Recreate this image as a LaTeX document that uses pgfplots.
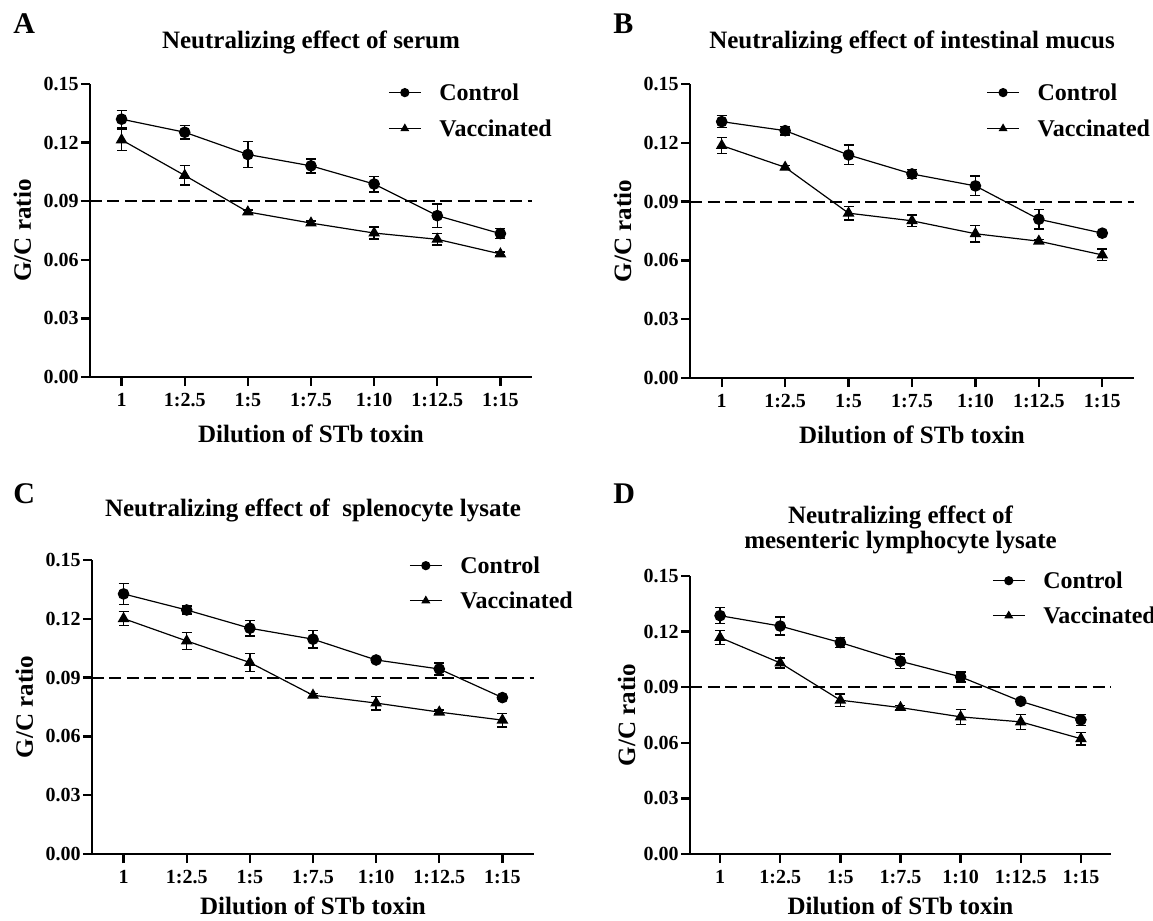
\documentclass[border=0pt]{standalone}
\usepackage{fontspec}
\setmainfont{Liberation Serif}
\usepackage{pgfplots}
\usepackage{pgfplotstable}
\pgfplotsset{compat=1.18}

% x = dilution index (0 = 1, 1 = 1:2.5, ... 6 = 1:15), y = G/C ratio, e = error
\pgfplotstableread{
x y e
0 0.1320 0.0043
1 0.1253 0.0034
2 0.1139 0.0066
3 0.1081 0.0036
4 0.0988 0.0040
5 0.0826 0.0060
6 0.0734 0.0025
}\serumctrl
\pgfplotstableread{
x y e
0 0.1214 0.0055
1 0.1032 0.0050
2 0.0845 0.0010
3 0.0788 0.0010
4 0.0737 0.0030
5 0.0705 0.0030
6 0.0630 0.0010
}\serumvacc
\pgfplotstableread{
x y e
0 0.1308 0.0030
1 0.1262 0.0022
2 0.1138 0.0050
3 0.1041 0.0024
4 0.0980 0.0050
5 0.0810 0.0050
6 0.0739 0.0010
}\mucusctrl
\pgfplotstableread{
x y e
0 0.1186 0.0040
1 0.1075 0.0010
2 0.0841 0.0035
3 0.0802 0.0030
4 0.0736 0.0042
5 0.0698 0.0010
6 0.0628 0.0030
}\mucusvacc
\pgfplotstableread{
x y e
0 0.1327 0.0053
1 0.1245 0.0020
2 0.1152 0.0040
3 0.1096 0.0044
4 0.0990 0.0010
5 0.0944 0.0030
6 0.0798 0.0010
}\splenctrl
\pgfplotstableread{
x y e
0 0.1201 0.0036
1 0.1087 0.0044
2 0.0977 0.0047
3 0.0810 0.0010
4 0.0770 0.0035
5 0.0724 0.0010
6 0.0683 0.0034
}\splenvacc
\pgfplotstableread{
x y e
0 0.1286 0.0043
1 0.1230 0.0049
2 0.1141 0.0027
3 0.1040 0.0040
4 0.0956 0.0027
5 0.0824 0.0010
6 0.0724 0.0030
}\mesctrl
\pgfplotstableread{
x y e
0 0.1168 0.0037
1 0.1031 0.0027
2 0.0830 0.0034
3 0.0790 0.0010
4 0.0740 0.0040
5 0.0713 0.0040
6 0.0622 0.0034
}\mesvacc

\pgfplotsset{
  /pgf/number format/assume math mode=true,
  panel/.style={
    scale only axis,
    anchor=south west,
    axis x line=bottom, axis y line=left,
    axis line style={line width=1.2pt, -},
    tick align=outside,
    major tick length=4.5pt,
    tick style={line width=1.2pt, black},
    xmin=-0.5, xmax=6.5, ymin=0, ymax=0.15,
    xtick={0,...,6},
    xticklabels={1,1:2.5,1:5,1:7.5,1:10,1:12.5,1:15},
    ytick={0,0.03,0.06,0.09,0.12,0.15},
    scaled y ticks=false,
    yticklabel style={/pgf/number format/fixed, /pgf/number format/fixed zerofill,
      /pgf/number format/precision=2, inner sep=1pt},
    ticklabel style={font=\bfseries\fontsize{10}{12}\selectfont},
    xlabel={Dilution of STb toxin},
    ylabel={G/C ratio},
    label style={font=\bfseries\fontsize{12.5}{14}\selectfont},
    xlabel style={at={([yshift=-32.5pt]axis description cs:0.5,0)}, anchor=base},
    ylabel style={at={([xshift=-29.5pt]axis description cs:0,0.5)}, anchor=base},
    title style={font=\bfseries\fontsize{12.5}{12.5}\selectfont, align=center,
      at={([yshift=12pt]axis description cs:0.5,1)}, anchor=base},
    legend cell align=left,
    legend style={draw=none, fill=none, inner sep=0pt, anchor=north west,
      at={(0.674,1.0)}, row sep=9.8pt,
      font=\bfseries\fontsize{12}{14}\selectfont,
      nodes={inner sep=0pt, text height=8.2pt, text depth=0pt},
      /tikz/every odd column/.append style={column sep=9pt}},
    legend image code/.code={
      \draw[mark repeat=2, mark phase=2, #1, mark size=2pt]
        plot coordinates {(0cm,0cm) (0.28cm,0cm) (0.56cm,0cm)};},
  },
  ctrl/.style={black, line width=0.6pt, mark=*, mark size=2.6pt,
    mark options={solid, fill=black},
    error bars/.cd, y dir=both, y explicit,
    error bar style={line width=0.7pt, black},
    error mark options={rotate=90, mark size=2.5pt, line width=0.7pt, black}},
  vacc/.style={black, line width=0.6pt, mark=triangle*, mark size=2.8pt,
    mark options={solid, fill=black},
    error bars/.cd, y dir=both, y explicit,
    error bar style={line width=0.7pt, black},
    error mark options={rotate=90, mark size=2.5pt, line width=0.7pt, black}},
  cutoff/.style={black, line width=1pt, dash pattern=on 6pt off 2.75pt, forget plot},
}

\begin{document}
\begin{tikzpicture}
\useasboundingbox (0,0) rectangle (576.5pt,-460.5pt);

% A
\begin{axis}[panel, at={(45pt,-188.5pt)}, width=221pt, height=146.5pt,
  title={Neutralizing effect of serum}]
  \addplot[cutoff] coordinates {(-0.5,0.09) (6.5,0.09)};
  \addplot[ctrl] table[x=x, y=y, y error=e] {\serumctrl};
  \addplot[vacc] table[x=x, y=y, y error=e] {\serumvacc};
  \legend{Control, Vaccinated}
\end{axis}

% B
\begin{axis}[panel, at={(345pt,-189pt)}, width=222pt, height=147pt,
  title={Neutralizing effect of intestinal mucus},
  legend style={at={(0.667,1.0)}}]
  \addplot[cutoff] coordinates {(-0.5,0.09) (6.5,0.09)};
  \addplot[ctrl] table[x=x, y=y, y error=e] {\mucusctrl};
  \addplot[vacc] table[x=x, y=y, y error=e] {\mucusvacc};
  \legend{Control, Vaccinated}
\end{axis}

% C
\begin{axis}[panel, at={(46pt,-427pt)}, width=221pt, height=147pt,
  title={Neutralizing effect of\ \ splenocyte lysate},
  title style={at={([yshift=16pt]axis description cs:0.5,1)}},
  xlabel style={at={([yshift=-30pt]axis description cs:0.5,0)}},
  legend style={at={(0.717,1.01)}, row sep=9.3pt}]
  \addplot[cutoff] coordinates {(-0.5,0.09) (6.5,0.09)};
  \addplot[ctrl] table[x=x, y=y, y error=e] {\splenctrl};
  \addplot[vacc] table[x=x, y=y, y error=e] {\splenvacc};
  \legend{Control, Vaccinated}
\end{axis}

% D
\begin{axis}[panel, at={(345pt,-427pt)}, width=210.5pt, height=139pt,
  title={Neutralizing effect of\\mesenteric lymphocyte lysate},
  title style={at={([yshift=8pt]axis description cs:0.5,1)}},
  xlabel style={at={([yshift=-30pt]axis description cs:0.5,0)}},
  ylabel style={at={([xshift=-27.5pt]axis description cs:0,0.5)}},
  legend style={at={(0.717,1.014)}, row sep=9.3pt}]
  \addplot[cutoff] coordinates {(-0.5,0.09) (6.5,0.09)};
  \addplot[ctrl] table[x=x, y=y, y error=e] {\mesctrl};
  \addplot[vacc] table[x=x, y=y, y error=e] {\mesvacc};
  \legend{Control, Vaccinated}
\end{axis}

\node[anchor=base west, inner sep=0pt, font=\bfseries\fontsize{15}{18}\selectfont] at (6.5pt,-16.5pt) {A};
\node[anchor=base west, inner sep=0pt, font=\bfseries\fontsize{15}{18}\selectfont] at (306.5pt,-16.5pt) {B};
\node[anchor=base west, inner sep=0pt, font=\bfseries\fontsize{15}{18}\selectfont] at (6.5pt,-251.5pt) {C};
\node[anchor=base west, inner sep=0pt, font=\bfseries\fontsize{15}{18}\selectfont] at (306.5pt,-251.5pt) {D};
\end{tikzpicture}
\end{document}
